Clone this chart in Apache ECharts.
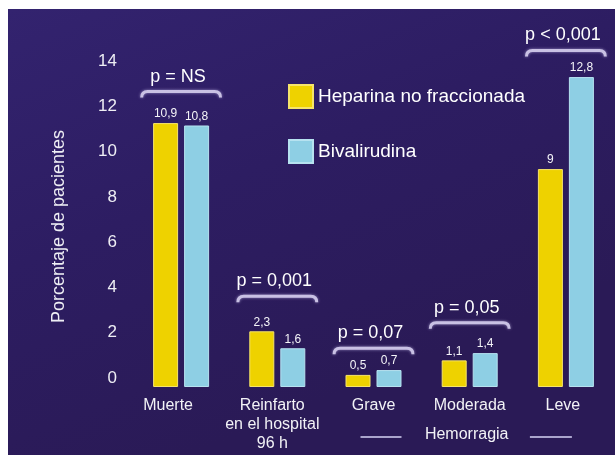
<!DOCTYPE html>
<html>
<head>
<meta charset="utf-8">
<script src="https://cdn.jsdelivr.net/npm/echarts@6/dist/echarts.min.js"></script>
<style>
html,body{margin:0;padding:0;background:#fff;}
#c{width:615px;height:455px;}
</style>
</head>
<body>
<div id="c"></div>
<script>
// ---- data ----
const categories = ['Muerte', 'Reinfarto\nen el hospital\n96 h', 'Grave', 'Moderada', 'Leve'];
const heparina = [10.9, 2.3, 0.5, 1.1, 9];
const bivalirudina = [10.8, 1.6, 0.7, 1.4, 12.8];
const pLabels = ['p = NS', 'p = 0,001', 'p = 0,07', 'p = 0,05', 'p < 0,001'];
const bracketLevels = [12.2, 3.75, 1.6, 2.65, 13.9];
const yTicks = [0, 2, 4, 6, 8, 10, 12, 14];
const groupLabel = 'Hemorragia';
const groupSpan = [2, 4];

const FONT = 'Liberation Sans, Arial, sans-serif';
const fmt = v => String(v).replace('.', ',');
const labelShift = [26, 10, 0, 0, 6];

const chart = echarts.init(document.getElementById('c'), null, {renderer: 'canvas'});

const bracketData = categories.map((c, i) => [i, bracketLevels[i], pLabels[i]]);
const catItems = categories.map((c, i) => ({value: c, textStyle: {padding: [0, labelShift[i], 0, 0]}}));

const option = {
  backgroundColor: '#ffffff',
  animation: false,
  textStyle: {fontFamily: FONT},
  graphic: [{
    type: 'rect', z: -10, silent: true,
    shape: {x: 8, y: 9, width: 607, height: 446},
    style: {
      fill: {
        type: 'linear', x: 0, y: 0, x2: 0.3, y2: 1,
        colorStops: [
          {offset: 0, color: '#33236f'},
          {offset: 0.5, color: '#2d1d62'},
          {offset: 1, color: '#2a1a56'}
        ]
      }
    }
  }],
  legend: {
    orient: 'vertical',
    left: 288, top: 84,
    padding: 0,
    itemWidth: 24, itemHeight: 23, itemGap: 30,
    icon: 'rect',
    textStyle: {color: '#ffffff', fontSize: 19, fontFamily: FONT},
    data: ['Heparina no fraccionada', 'Bivalirudina']
  },
  grid: [
    {left: 133, right: 1, top: 48, bottom: 68},
    {left: 125, right: 1, top: 61, bottom: 77}
  ],
  xAxis: [
    {
      type: 'category', gridIndex: 0, data: catItems,
      axisLine: {show: false}, axisTick: {show: false},
      axisLabel: {color: '#f2f2f6', fontSize: 16, lineHeight: 19, margin: 9, interval: 0, fontFamily: FONT}
    },
    {type: 'category', gridIndex: 1, data: categories, show: false}
  ],
  yAxis: [
    {type: 'value', gridIndex: 0, min: 0, max: 14, show: false},
    {
      type: 'value', gridIndex: 1, min: 0, max: 14, interval: 2,
      axisLine: {show: false}, axisTick: {show: false}, splitLine: {show: false},
      axisLabel: {color: '#eeeef4', fontSize: 17, margin: 8, fontFamily: FONT},
      name: 'Porcentaje de pacientes', nameLocation: 'middle', nameGap: 57,
      nameTextStyle: {color: '#eeeef4', fontSize: 18, fontFamily: FONT, padding: [0, 14, 0, 0]}
    }
  ],
  series: [
    {
      name: 'Heparina no fraccionada', type: 'bar', xAxisIndex: 0, yAxisIndex: 0,
      data: heparina, barWidth: 25, barGap: '24%',
      itemStyle: {color: '#eed200', borderColor: '#f6e46a', borderWidth: 1},
      label: {show: true, position: 'top', distance: 3, color: '#f4f4f8', fontSize: 12,
              fontFamily: FONT, formatter: p => fmt(p.value)}
    },
    {
      name: 'Bivalirudina', type: 'bar', xAxisIndex: 0, yAxisIndex: 0,
      data: bivalirudina, barWidth: 25,
      itemStyle: {color: '#8ecfe4', borderColor: '#b6e2f0', borderWidth: 1},
      label: {show: true, position: 'top', distance: 3, color: '#f4f4f8', fontSize: 12,
              fontFamily: FONT, formatter: p => fmt(p.value)}
    },
    {
      type: 'custom', xAxisIndex: 0, yAxisIndex: 0, silent: true, clip: false,
      data: bracketData,
      renderItem: function (params, api) {
        const pt = api.coord([api.value(0), api.value(1)]);
        const half = api.size([1, 0])[0] * 0.41;
        const x0 = pt[0] - half, x1 = pt[0] + half, y = pt[1];
        const label = pLabels[params.dataIndex];
        return {
          type: 'group',
          children: [
            {
              type: 'path',
              shape: {
                pathData: `M${x0} ${y + 6} Q${x0} ${y} ${x0 + 6} ${y} L${x1 - 6} ${y} Q${x1} ${y} ${x1} ${y + 6}`
              },
              style: {fill: null, stroke: '#c9c1e4', lineWidth: 3, shadowBlur: 3, shadowColor: 'rgba(220,210,255,0.6)'}
            },
            {
              type: 'text',
              style: {x: pt[0] - 3, y: y - 6, text: label, fill: '#ffffff', fontSize: 18,
                      fontFamily: FONT, align: 'center', verticalAlign: 'bottom'}
            }
          ]
        };
      }
    },
    {
      type: 'custom', xAxisIndex: 0, yAxisIndex: 0, silent: true, clip: false,
      data: [[groupSpan[0], groupSpan[1], 0]],
      renderItem: function (params, api) {
        const a = api.coord([api.value(0), 0]);
        const b = api.coord([api.value(1), 0]);
        const mid = (a[0] + b[0]) / 2;
        const y = a[1] + 50;
        return {
          type: 'group',
          children: [
            {type: 'line', shape: {x1: a[0] - 13, y1: y, x2: a[0] + 28, y2: y},
             style: {stroke: '#aaa4cc', lineWidth: 2}},
            {type: 'line', shape: {x1: b[0] - 36, y1: y, x2: b[0] + 6, y2: y},
             style: {stroke: '#aaa4cc', lineWidth: 2}},
            {type: 'text', style: {x: mid - 3, y: y - 2, text: groupLabel, fill: '#f2f2f6', fontSize: 16,
                                   fontFamily: FONT, align: 'center', verticalAlign: 'middle'}}
          ]
        };
      }
    }
  ]
};
chart.setOption(option);
</script>
</body>
</html>
